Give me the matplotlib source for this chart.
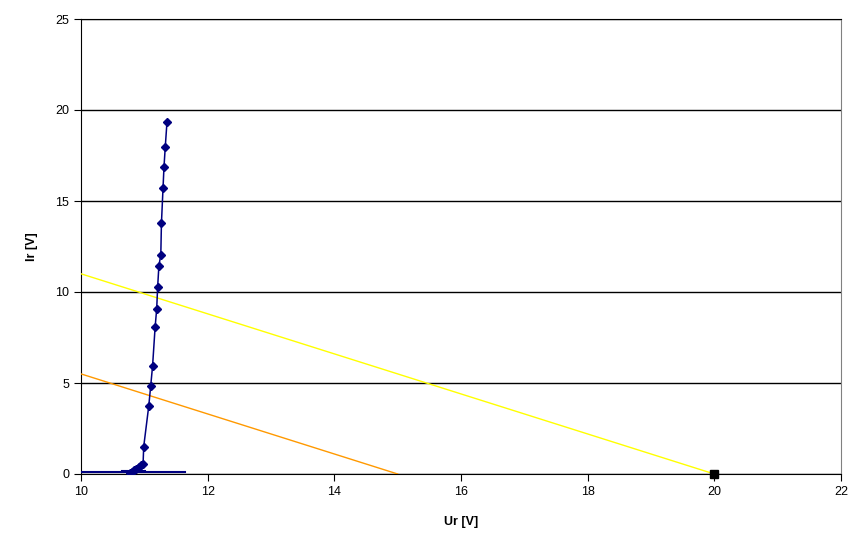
import matplotlib.pyplot as plt

plt.rcParams['font.family'] = ['Liberation Sans', 'DejaVu Sans']

# Zener-Kennlinie (Messpunkte)
ur = [10.77, 10.80, 10.83, 10.87, 10.91, 10.95, 10.98, 10.99, 11.07, 11.10,
      11.13, 11.17, 11.195, 11.21, 11.23, 11.26, 11.27, 11.295, 11.31, 11.33, 11.358]
ir = [0.05, 0.12, 0.20, 0.30, 0.40, 0.50, 0.55, 1.50, 3.74, 4.82,
      5.93, 8.06, 9.07, 10.26, 11.45, 12.03, 13.77, 15.70, 16.85, 17.95, 19.36]

# kurze Linien am Boden
low1_u = [10.64, 11.01]
low1_i = [0.18, 0.18]
low2_u = [9.0, 11.64]
low2_i = [0.10, 0.10]

# Arbeitsgeraden
gelb_u = [10, 20]
gelb_i = [11, 0]
orange_u = [10, 15]
orange_i = [5.5, 0]
punkt_u = [20]
punkt_i = [0]

fig = plt.figure(figsize=(8.66, 5.48), dpi=100)
ax = fig.add_axes([81/866, 1-474/548, 760/866, 455/548])

ax.plot(gelb_u, gelb_i, color='#FFFF00', lw=1, zorder=3)
ax.plot(orange_u, orange_i, color='#FF9900', lw=1, zorder=3)
ax.plot(low2_u, low2_i, color='#000080', lw=1.5, zorder=4)
ax.plot(low1_u, low1_i, color='#000080', lw=1.5, zorder=4)
ax.plot(ur, ir, color='#000080', lw=1.1, marker='D', ms=4, zorder=5)
ax.plot(punkt_u, punkt_i, color='black', marker='s', ms=6, ls='none', zorder=6, clip_on=False)

ax.set_xlim(10, 22)
ax.set_ylim(0, 25)
ax.set_xticks(range(10, 23, 2))
ax.set_yticks(range(0, 26, 5))
ax.yaxis.grid(True, color='black', lw=1)
ax.set_axisbelow(True)

for s in ['left', 'bottom', 'top']:
    ax.spines[s].set_color('black')
ax.spines['right'].set_color('#808080')

ax.tick_params(direction='out', length=5, labelsize=9, colors='black')
ax.set_xlabel('Ur [V]', fontsize=9, fontweight='bold')
ax.set_ylabel('Ir [V]', fontsize=9, fontweight='bold')
ax.xaxis.set_label_coords(0.5, -0.093)
ax.yaxis.set_label_coords(-0.056, 0.5)

plt.savefig('out.png', dpi=100)
